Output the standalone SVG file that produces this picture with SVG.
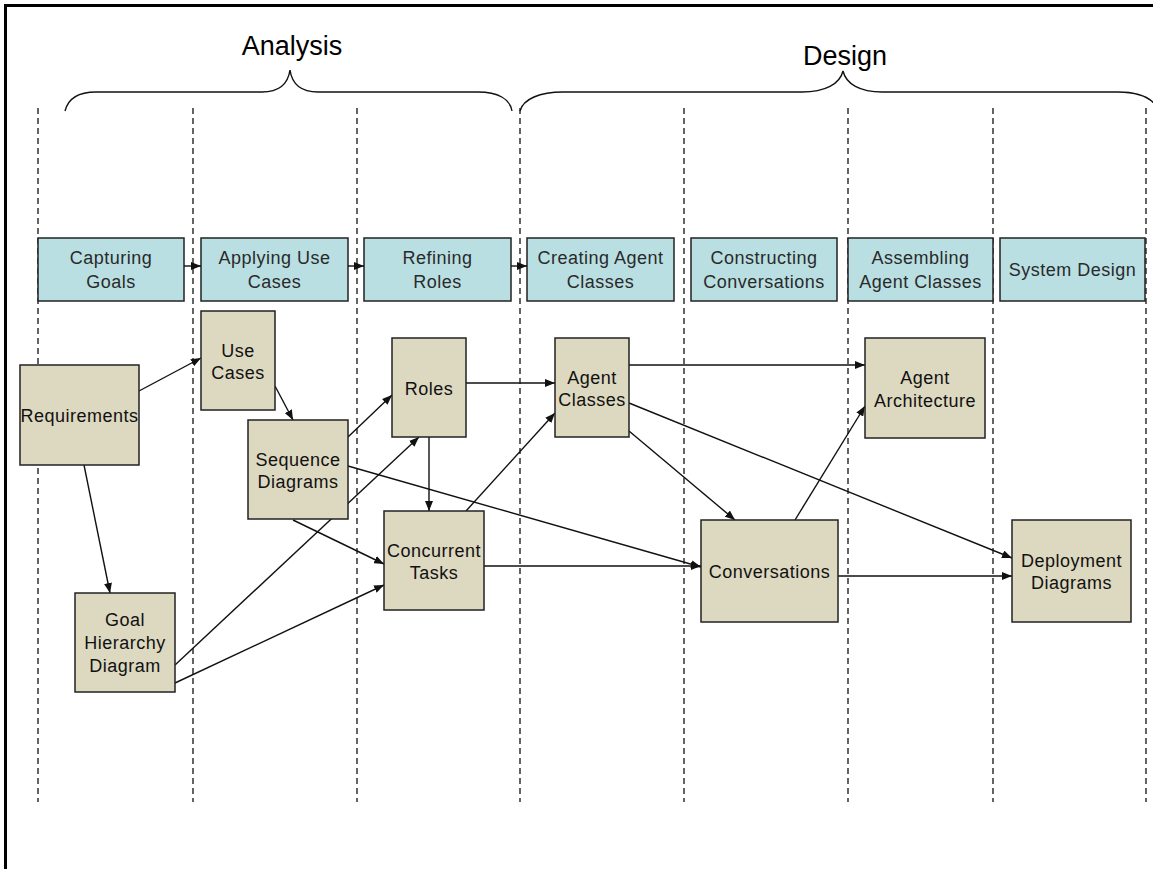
<svg xmlns="http://www.w3.org/2000/svg" width="1153" height="869" viewBox="0 0 1153 869">
<defs>
<style>
.frame{fill:none;stroke:#000;stroke-width:3}
.lane{stroke:#111;stroke-width:1.3;stroke-dasharray:6 4;fill:none}
.brace{fill:none;stroke:#111;stroke-width:1.4}
.title{font-family:"Liberation Sans",Arial,sans-serif;font-size:27px;fill:#000;text-anchor:middle}
.phase rect{fill:#B9DFE2;stroke:#222;stroke-width:1.5}
.phase text{font-family:"Liberation Sans",Arial,sans-serif;font-size:18px;fill:#2a2a2a;text-anchor:middle;letter-spacing:0.5px}
.node rect{fill:#DDD8C0;stroke:#222;stroke-width:1.5}
.node text{font-family:"Liberation Sans",Arial,sans-serif;font-size:18px;fill:#111;text-anchor:middle;letter-spacing:0.5px}
.edge{fill:none;stroke:#111;stroke-width:1.4;marker-end:url(#arr)}
</style>
<marker id="arr" viewBox="0 0 10 8" refX="10" refY="4" markerWidth="10" markerHeight="8" markerUnits="userSpaceOnUse" orient="auto">
<path d="M0,0 L10,4 L0,8 Z" fill="#111"/>
</marker>
</defs>
<rect width="1153" height="869" fill="#fff"/>
<path class="frame" d="M5.5,869 V5.5 H1153"/>

<g id="lanes">
<line class="lane" x1="38" y1="108" x2="38" y2="802"/>
<line class="lane" x1="193" y1="108" x2="193" y2="802"/>
<line class="lane" x1="357" y1="108" x2="357" y2="802"/>
<line class="lane" x1="520" y1="108" x2="520" y2="802"/>
<line class="lane" x1="684" y1="108" x2="684" y2="802"/>
<line class="lane" x1="848" y1="108" x2="848" y2="802"/>
<line class="lane" x1="993" y1="108" x2="993" y2="802"/>
<line class="lane" x1="1146" y1="108" x2="1146" y2="802"/>
</g>

<g id="analysis">
<text class="title" x="292" y="55">Analysis</text>
<path class="brace" d="M65,111 C68,99 78,92 96,92 H262 C280,92 288,84 290,70 C292,84 300,92 318,92 H478 C498,92 510,99 512,111"/>
</g>
<g id="design">
<text class="title" x="845" y="65">Design</text>
<path class="brace" d="M520,111 C523,99 540,92 563,92 H802 C825,92 840,84 843,71 C846,84 860,92 882,92 H1118 C1140,92 1155,99 1160,113"/>
</g>

<g id="phase-capturing" class="phase"><rect x="38" y="238" width="146" height="63"/><text x="111" y="264">Capturing</text><text x="111" y="288">Goals</text></g>
<g id="phase-applying" class="phase"><rect x="201" y="238" width="147" height="63"/><text x="274.5" y="264">Applying Use</text><text x="274.5" y="288">Cases</text></g>
<g id="phase-refining" class="phase"><rect x="364" y="238" width="147" height="63"/><text x="437.5" y="264">Refining</text><text x="437.5" y="288">Roles</text></g>
<g id="phase-creating" class="phase"><rect x="527" y="238" width="147" height="63"/><text x="600.5" y="264">Creating Agent</text><text x="600.5" y="288">Classes</text></g>
<g id="phase-constructing" class="phase"><rect x="691" y="238" width="146" height="63"/><text x="764" y="264">Constructing</text><text x="764" y="288">Conversations</text></g>
<g id="phase-assembling" class="phase"><rect x="848" y="238" width="145" height="63"/><text x="920.5" y="264">Assembling</text><text x="920.5" y="288">Agent Classes</text></g>
<g id="phase-system" class="phase"><rect x="1000" y="238" width="145" height="63"/><text x="1072.5" y="276">System Design</text></g>

<g id="connectors">
<line class="edge" x1="184" y1="266" x2="201" y2="266"/>
<line class="edge" x1="348" y1="266" x2="364" y2="266"/>
<line class="edge" x1="511" y1="266" x2="527" y2="266"/>
<line class="edge" x1="139" y1="391" x2="201" y2="358"/>
<line class="edge" x1="275" y1="386" x2="293" y2="420"/>
<line class="edge" x1="84" y1="465" x2="110" y2="593"/>
<line class="edge" x1="348" y1="437" x2="392" y2="395"/>
<line class="edge" x1="175" y1="665" x2="419" y2="437"/>
<line class="edge" x1="175" y1="683" x2="384" y2="585"/>
<line class="edge" x1="293" y1="520" x2="384" y2="564"/>
<line class="edge" x1="348" y1="466" x2="701" y2="567"/>
<line class="edge" x1="484" y1="566" x2="701" y2="566"/>
<line class="edge" x1="429" y1="437" x2="429" y2="511"/>
<line class="edge" x1="466" y1="383" x2="555" y2="383"/>
<line class="edge" x1="466" y1="511" x2="555" y2="413"/>
<line class="edge" x1="629" y1="365" x2="865" y2="365"/>
<line class="edge" x1="629" y1="403" x2="1012" y2="558"/>
<line class="edge" x1="629" y1="431" x2="735" y2="520"/>
<line class="edge" x1="795" y1="520" x2="865" y2="406"/>
<line class="edge" x1="838" y1="576" x2="1012" y2="576"/>
</g>

<g id="node-requirements" class="node"><rect x="20" y="365" width="119" height="100"/><text x="79.5" y="422">Requirements</text></g>
<g id="node-usecases" class="node"><rect x="201" y="311" width="74" height="99"/><text x="238" y="357">Use</text><text x="238" y="379">Cases</text></g>
<g id="node-sequence" class="node"><rect x="248" y="420" width="100" height="99"/><text x="298" y="466">Sequence</text><text x="298" y="488">Diagrams</text></g>
<g id="node-goal" class="node"><rect x="75" y="593" width="100" height="99"/><text x="125" y="626">Goal</text><text x="125" y="649">Hierarchy</text><text x="125" y="672">Diagram</text></g>
<g id="node-roles" class="node"><rect x="392" y="338" width="74" height="99"/><text x="429" y="395">Roles</text></g>
<g id="node-concurrent" class="node"><rect x="384" y="511" width="100" height="99"/><text x="434" y="557">Concurrent</text><text x="434" y="579">Tasks</text></g>
<g id="node-agentclasses" class="node"><rect x="555" y="338" width="74" height="99"/><text x="592" y="384">Agent</text><text x="592" y="406">Classes</text></g>
<g id="node-agentarch" class="node"><rect x="865" y="338" width="120" height="100"/><text x="925" y="384">Agent</text><text x="925" y="407">Architecture</text></g>
<g id="node-conversations" class="node"><rect x="701" y="520" width="137" height="102"/><text x="769.5" y="578">Conversations</text></g>
<g id="node-deployment" class="node"><rect x="1012" y="520" width="119" height="102"/><text x="1071.5" y="567">Deployment</text><text x="1071.5" y="589">Diagrams</text></g>
</svg>
